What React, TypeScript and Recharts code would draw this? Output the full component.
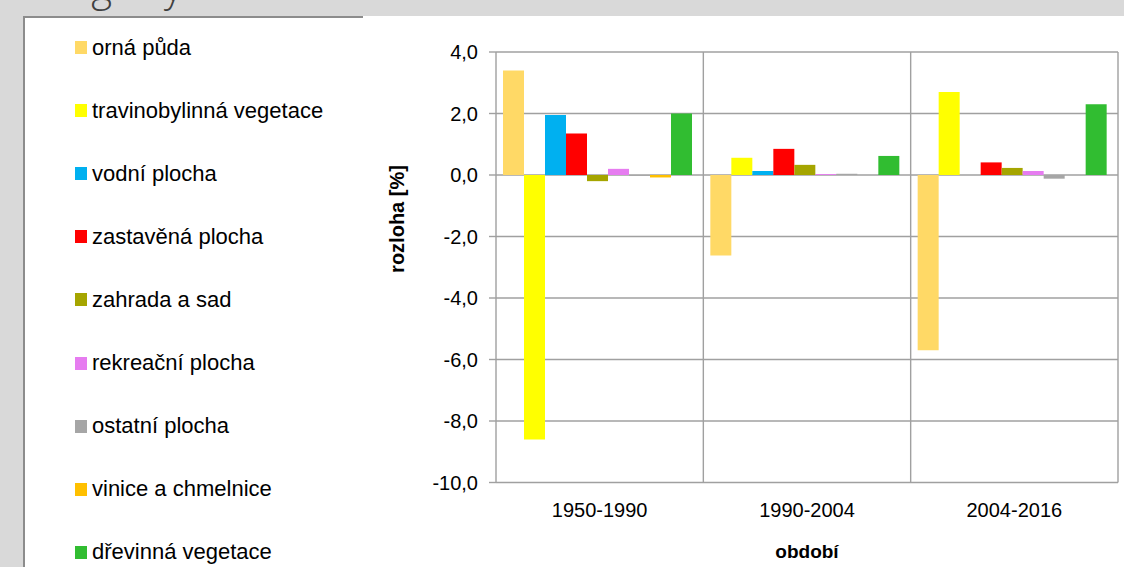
import React from 'react';
import { BarChart, Bar, XAxis, YAxis, CartesianGrid } from 'recharts';

const periods = ['1950-1990', '1990-2004', '2004-2016'];

const seriesNames = [
  'orná půda',
  'travinobylinná vegetace',
  'vodní plocha',
  'zastavěná plocha',
  'zahrada a sad',
  'rekreační plocha',
  'ostatní plocha',
  'vinice a chmelnice',
  'dřevinná vegetace',
];

const seriesColors = [
  '#FFD966',
  '#FFFF00',
  '#00B0F0',
  '#FF0000',
  '#A5A500',
  '#E67CF0',
  '#A6A6A6',
  '#FFC000',
  '#31BD31',
];

// změna rozlohy v % za období
const ornaPuda = [3.4, -2.62, -5.7];
const travinobylinnaVegetace = [-8.6, 0.56, 2.7];
const vodniPlocha = [1.95, 0.13, 0];
const zastavenaPlocha = [1.35, 0.85, 0.41];
const zahradaSad = [-0.2, 0.33, 0.23];
const rekreacniPlocha = [0.2, 0.03, 0.13];
const ostatniPlocha = [-0.03, 0.04, -0.12];
const viniceChmelnice = [-0.08, 0, 0];
const drevinnaVegetace = [2.0, 0.62, 2.3];

const yTicks = [-10, -8, -6, -4, -2, 0, 2, 4];

const seriesValues = [
  ornaPuda,
  travinobylinnaVegetace,
  vodniPlocha,
  zastavenaPlocha,
  zahradaSad,
  rekreacniPlocha,
  ostatniPlocha,
  viniceChmelnice,
  drevinnaVegetace,
];

const data = periods.map((period, i) => {
  const row: Record<string, string | number> = { period };
  seriesNames.forEach((name, s) => {
    row[name] = seriesValues[s][i];
  });
  return row;
});

const FONT = '"Liberation Sans", Arial, sans-serif';
const GRID = '#a0a0a0';

const formatTick = (v: number) => v.toFixed(1).replace('.', ',');

const Legend = () => (
  <div style={{ position: 'absolute', left: 75, top: 16, fontFamily: FONT, fontSize: 22, color: '#000' }}>
    {seriesNames.map((name, i) => (
      <div key={name} style={{ height: 63.1, display: 'flex', alignItems: 'center' }}>
        <span style={{ width: 12, height: 13, background: seriesColors[i], marginRight: 5, display: 'inline-block' }} />
        <span>{name}</span>
      </div>
    ))}
  </div>
);

const App = () => {
  return (
    <div
      style={{
        position: 'absolute',
        left: 0,
        top: 0,
        width: 1124,
        height: 567,
        overflow: 'hidden',
        background: '#d9d9d9',
      }}
    >
      <div
        style={{
          position: 'absolute',
          left: 60,
          top: -34,
          fontFamily: '"Open Sans", sans-serif',
          fontWeight: 300,
          fontSize: 40,
          lineHeight: '40px',
          color: '#404040',
          whiteSpace: 'pre',
        }}
      >
        {'   g     y'}
      </div>
      <div
        style={{
          position: 'absolute',
          left: 23,
          top: 16,
          right: 0,
          bottom: 0,
          background: '#fff',
          borderLeft: '2px solid #8c8c8c',
        }}
      />
      <div style={{ position: 'absolute', left: 23, top: 16, width: 340, height: 2, background: '#8c8c8c' }} />
      <Legend />
      <div style={{ position: 'absolute', left: 0, top: 0 }}>
        <BarChart
          width={1124}
          height={567}
          data={data}
          margin={{ top: 52, right: 6, bottom: 54.5, left: 416 }}
          barCategoryGap={7}
          barGap={0}
        >
          <CartesianGrid
            stroke={GRID}
            strokeWidth={1.4}
            verticalCoordinatesGenerator={({ offset }: any) =>
              [1, 2, 3].map((i) => offset.left + (offset.width * i) / periods.length)
            }
          />
          <XAxis
            dataKey="period"
            axisLine={false}
            tickLine={false}
            tickSize={0}
            tickMargin={20.5}
            height={30}
            tick={{ fill: '#000', fontSize: 20, fontFamily: FONT }}
            label={{
              content: ({ viewBox }: any) => (
                <text
                  x={viewBox.x + viewBox.width / 2}
                  y={viewBox.y + 68.5}
                  textAnchor="middle"
                  dominantBaseline="central"
                  fontFamily={FONT}
                  fontSize={19}
                  fontWeight="bold"
                  fill="#000"
                >
                  období
                </text>
              ),
            }}
          />
          <YAxis
            domain={[-10, 4]}
            ticks={yTicks}
            width={80}
            interval={0}
            tickFormatter={formatTick}
            axisLine={{ stroke: GRID, strokeWidth: 1.4 }}
            tickLine={{ stroke: GRID, strokeWidth: 1.4 }}
            tickSize={7}
            tickMargin={11}
            tick={{ fill: '#000', fontSize: 20, fontFamily: FONT }}
            label={{
              content: ({ viewBox }: any) => {
                const cx = viewBox.x + viewBox.width - 99;
                const cy = 219;
                return (
                  <text
                    x={cx}
                    y={cy}
                    transform={`rotate(-90 ${cx} ${cy})`}
                    textAnchor="middle"
                    dominantBaseline="central"
                    fontFamily={FONT}
                    fontSize={20}
                    fontWeight="bold"
                    fill="#000"
                  >
                    rozloha [%]
                  </text>
                );
              },
            }}
          />
          {seriesNames.map((name, i) => (
            <Bar key={name} dataKey={name} fill={seriesColors[i]} isAnimationActive={false} />
          ))}
        </BarChart>
      </div>
    </div>
  );
};

export default App;
